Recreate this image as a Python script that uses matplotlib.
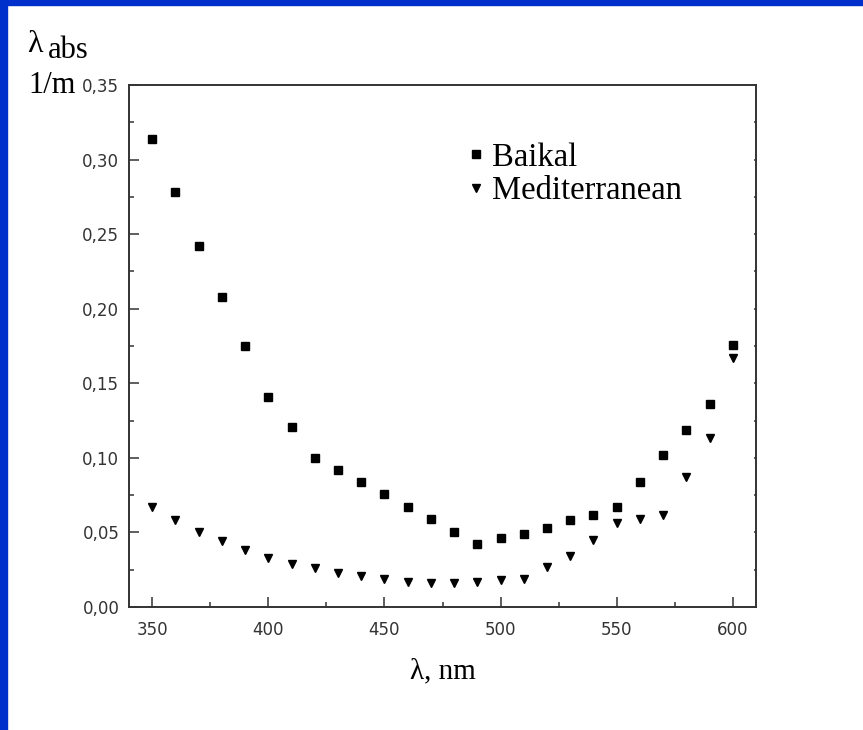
import numpy as np
import matplotlib.pyplot as plt
from matplotlib.patches import Rectangle
from matplotlib.ticker import MultipleLocator, FuncFormatter

wavelength = np.arange(350, 601, 10)
baikal = [0.314, 0.278, 0.242, 0.208, 0.175, 0.141, 0.121, 0.100, 0.092, 0.084,
          0.076, 0.067, 0.059, 0.050, 0.042, 0.046, 0.049, 0.053, 0.058, 0.062,
          0.067, 0.084, 0.102, 0.119, 0.136, 0.176]
mediterranean = [0.067, 0.058, 0.050, 0.044, 0.038, 0.033, 0.029, 0.026, 0.023, 0.021,
                 0.019, 0.017, 0.016, 0.016, 0.017, 0.018, 0.019, 0.027, 0.034, 0.045,
                 0.056, 0.059, 0.062, 0.087, 0.113, 0.167]

fig = plt.figure(figsize=(8.63, 7.30), dpi=100)

# blue frame (top and left only)
fig.patches.append(Rectangle((0, 0), 7 / 863, 1, transform=fig.transFigure,
                             color='#0030cc', zorder=0))
fig.patches.append(Rectangle((0, 1 - 5 / 730), 1, 5 / 730, transform=fig.transFigure,
                             color='#0030cc', zorder=0))

ax = fig.add_axes([129 / 863, 1 - 607 / 730, 627 / 863, 522 / 730])
ax.plot(wavelength, baikal, 's', color='black', markersize=5.2, label='Baikal')
ax.plot(wavelength, mediterranean, 'v', color='black', markersize=5.5, label='Mediterranean')

ax.set_xlim(340, 610)
ax.set_ylim(0, 0.35)
ax.xaxis.set_major_locator(MultipleLocator(50))
ax.xaxis.set_minor_locator(MultipleLocator(25))
ax.yaxis.set_major_locator(MultipleLocator(0.05))
ax.yaxis.set_minor_locator(MultipleLocator(0.025))
ax.yaxis.set_major_formatter(FuncFormatter(lambda v, p: f'{v:.2f}'.replace('.', ',')))

for s in ax.spines.values():
    s.set_color('#333333')
    s.set_linewidth(1.4)

ax.tick_params(which='major', direction='in', length=7, width=1.1, color='#333333',
               labelsize=12, labelcolor='#333333')
ax.tick_params(which='minor', direction='in', length=3.5, width=1.1, color='#333333')
ax.tick_params(axis='x', which='major', pad=10)
ax.tick_params(axis='y', which='major', pad=7)
ax.tick_params(which='both', right=True, top=False)
for t in ax.yaxis.get_major_ticks() + ax.yaxis.get_minor_ticks():
    t.tick2line.set_markersize(1.5)
    t.tick2line.set_color('#888888')

serif = 'Liberation Serif'
ax.set_xlabel('λ, nm', family=serif, fontsize=21, labelpad=14)
fig.text(27 / 863, 1 - 52 / 730, 'λ', family=serif, fontsize=23, ha='left', va='baseline')
fig.text(48 / 863, 1 - 58 / 730, 'abs', family=serif, fontsize=22, ha='left', va='baseline')
fig.text(28 / 863, 1 - 93 / 730, '1/m', family=serif, fontsize=22, ha='left', va='baseline')

ax.legend(loc='upper left', bbox_to_anchor=(0.5375, 0.89), frameon=False,
          prop={'family': serif, 'size': 23.5}, handlelength=0.6, handletextpad=0.2,
          labelspacing=0.08, borderaxespad=0, borderpad=0)

fig.savefig('out.png', dpi=100)
